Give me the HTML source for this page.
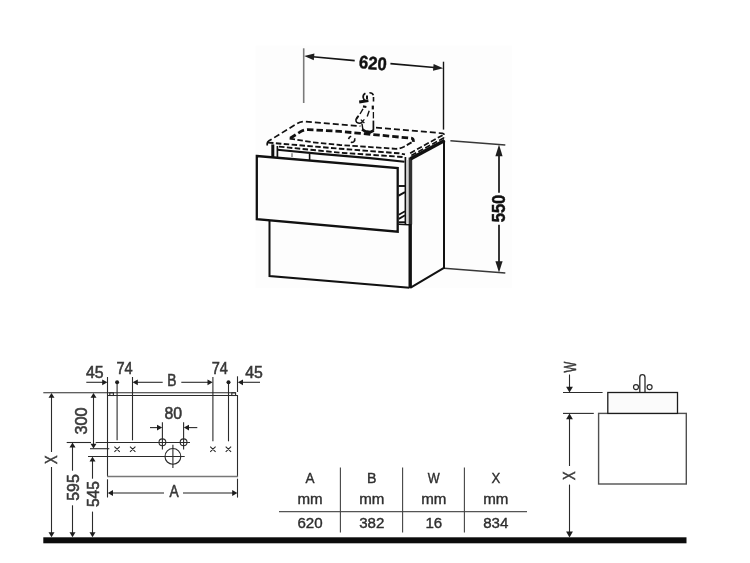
<!DOCTYPE html>
<html lang="en">
<head>
<meta charset="utf-8">
<title>Vanity unit dimensions</title>
<style>
  html, body { margin: 0; padding: 0; background: #fff; }
  body { width: 750px; height: 563px; overflow: hidden; }
  svg { display: block; filter: blur(0.3px); }
  text { font-family: "Liberation Sans", sans-serif; }
  .t { font-size: 16.2px; fill: #383838; stroke: #383838; stroke-width: 0.55; }
  .tb { font-size: 15.3px; fill: #2e2e2e; stroke: #2e2e2e; stroke-width: 0.4; }
  .bold { font-weight: bold; font-size: 18.2px; fill: #111; stroke: #111; stroke-width: 0.45; }
  .ln { stroke: #2b2b2b; stroke-width: 1.1; fill: none; }
  .gr { stroke: #777; stroke-width: 1.5; fill: none; }
  .ah { fill: #1e1e1e; stroke: none; }
  .k { stroke: #111; fill: none; stroke-linecap: butt; stroke-linejoin: miter; }
</style>
</head>
<body>
<svg width="750" height="563" viewBox="0 0 750 563">
<rect x="0" y="0" width="750" height="563" fill="#ffffff"/>

<!-- ===================== TOP: ISOMETRIC DRAWING ===================== -->
<g id="iso">
  <rect x="255.5" y="45.5" width="256.5" height="242.5" fill="#fdfdfd"/>
  <!-- 620 dimension -->
  <line x1="303.7" y1="48.3" x2="303.7" y2="103" stroke="#7a7a7a" stroke-width="1.6"/>
  <line x1="443.5" y1="61.7" x2="443.5" y2="129.6" stroke="#151515" stroke-width="1.4"/>
  <line x1="310" y1="56.5" x2="354.7" y2="60.6" stroke="#151515" stroke-width="1.6"/>
  <line x1="390.4" y1="63.6" x2="437" y2="67.7" stroke="#151515" stroke-width="1.6"/>
  <polygon class="ah" points="304.2,56 314.4,53.6 313.8,60.2" fill="#111"/>
  <polygon class="ah" points="443.2,68.3 433.6,64.1 433,70.7" fill="#111"/>
  <text class="bold" x="0" y="0" text-anchor="middle" textLength="27.8" lengthAdjust="spacingAndGlyphs" transform="translate(372.3,69.3) rotate(5)">620</text>

  <!-- 550 dimension -->
  <line x1="450.4" y1="140.7" x2="505.3" y2="145" stroke="#383838" stroke-width="1.5"/>
  <line x1="444" y1="268.3" x2="505.3" y2="273" stroke="#383838" stroke-width="1.5"/>
  <line x1="499" y1="152" x2="499" y2="192.7" stroke="#151515" stroke-width="1.7"/>
  <line x1="499" y1="224.7" x2="499" y2="265" stroke="#151515" stroke-width="1.7"/>
  <polygon class="ah" points="499,144.6 495.4,156.3 502.6,156.3"/>
  <polygon class="ah" points="499,272.4 495.4,261.3 502.6,261.3"/>
  <text class="bold" x="0" y="0" text-anchor="middle" textLength="27.6" lengthAdjust="spacingAndGlyphs" transform="translate(505,208.5) rotate(-90)">550</text>

  <!-- basin (dashed) -->
  <g class="k">
    <!-- outer outline -->
    <path d="M267.2,145.4 L267.2,143.4 Q267.3,141.8 269,140.8 L271.6,139.2" stroke-width="1.7"/>
    <path d="M274.2,137.6 L297,123.6 Q300.5,121.4 304.5,121.5 L360.4,126.2" stroke-width="1.7" stroke-dasharray="6 3"/>
    <path d="M376,127.6 L442.6,133.3 Q444.4,133.6 444.4,135.4 L444.4,138" stroke-width="1.7" stroke-dasharray="6 3"/>
    <!-- front top edge -->
    <path d="M268,142.6 L340,148.7 L398.7,153.3 L405,154.4" stroke-width="1.9" stroke-dasharray="5.5 2.4"/>
    <!-- front bottom edge -->
    <path d="M279,146.6 L340,152.7 L398.7,156.7 L404.5,157.2" stroke-width="1.9" stroke-dasharray="5.5 2.4"/>
    <!-- inner front line -->
    <path d="M289.6,138.6 L312,142.2 L340,145 L396,148.8 Q400,148.8 404,146.7 L413,141.6" stroke-width="1.8" stroke-dasharray="5.5 2.4"/>
    <!-- inner thick -->
    <path d="M290.2,138.2 L299.4,132.4 Q303.6,129.6 308,129.6 L340,131.4 L411.2,138.2 Q413.6,138.5 413.4,141.8" stroke-width="2.8" stroke-dasharray="6.5 3"/>
    <!-- right side edges -->
    <path d="M442.6,135.2 L408.8,153.9" stroke-width="1.7" stroke-dasharray="5.5 2.4"/>
    <path d="M444,137.8 L410.2,156" stroke-width="1.7" stroke-dasharray="5.5 2.4"/>
    <!-- drain symbol -->
    <path d="M351.2,136.2 Q348.9,136.8 348.6,139.2" stroke-width="1.7"/>
    <path d="M354.7,138.2 Q355.3,140.6 353.6,141.8 Q352.4,142.6 350.8,142.3" stroke-width="1.6"/>
  </g>

  <!-- faucet (dashed) -->
  <g class="k" stroke-width="1.6">
    <path d="M365.4,93.2 Q362.6,94.6 363.2,97.6 Q363.6,99.6 365.2,100.6" stroke-width="1.7"/>
    <path d="M369.4,92.8 Q373.4,92.8 373.5,96.4 L373.5,101.4" stroke-width="1.6" stroke-dasharray="5 1.6"/>
    <path d="M359.2,102 L368.4,100.6" stroke-width="2.8"/>
    <path d="M367,95.6 L367,99" stroke-width="2"/>
    <path d="M363,106.4 L366.4,107" stroke-width="2.2"/>
    <path d="M372.8,105.6 L372.8,109.4" stroke-width="2.2"/>
    <path d="M363,108.8 L360,114 M358.6,116 L356.4,119.4" stroke-width="1.4"/>
    <path d="M369.2,110.8 L367.2,116.4" stroke-width="1.4"/>
    <path d="M373.4,112 L373.4,118.4" stroke-width="1.3"/>
    <path d="M373.4,120.6 L373.4,130.6" stroke-width="1.7"/>
    <path d="M358.4,115.8 Q354.4,119.6 356.8,122.4 Q359.4,124 362.4,122.4" stroke-width="1.5"/>
    <path d="M360.8,119.6 L364.4,123 M364.4,119.4 L361,123" stroke-width="1.3"/>
    <path d="M362,123.8 L362.8,129" stroke-width="1.4"/>
    <path d="M362,129.4 L365.4,131.4 L370,132.2 L373.8,130.4" stroke-width="2.8"/>
  </g>

  <!-- cabinet body -->
  <g class="k">
    <!-- support pillar left -->
    <line x1="272.8" y1="144.4" x2="272.8" y2="157.6" stroke-width="3"/>
    <line x1="277.4" y1="146" x2="277.4" y2="157.8" stroke-width="1.7"/>
    <!-- cabinet top front edge -->
    <path d="M277.3,149.7 L320,153.9 L370,158.1 L404.5,161.7" stroke-width="2.1"/>
    <line x1="292" y1="153.2" x2="292" y2="157" stroke-width="1.2" stroke="#666"/>
    <line x1="309.6" y1="154" x2="309.6" y2="160.4" stroke-width="1.6"/>
    <!-- drawer front -->
    <path d="M256.8,156 L397.7,168.1 L397.7,231.7 L256.8,219.2 Z" stroke-width="2.3"/>
    <!-- lower cabinet front -->
    <path d="M269.5,220.4 L269.5,276 L409.5,287.8" stroke-width="2"/>
    <!-- drawer side details -->
    <path d="M398.4,186 L405.2,186" stroke-width="1.9"/>
    <path d="M398.6,195.6 L405,192.2" stroke-width="2"/>
    <path d="M398.8,214.7 L405,211.3" stroke-width="1.6"/>
    <path d="M398.8,218.9 L405,215.3" stroke-width="1.8"/>
    <path d="M398.6,222.2 L405.6,222.2" stroke-width="1.8"/>
    <path d="M398.4,224.2 L409,224.7" stroke-width="1.4"/>
    <!-- front right vertical -->
    <line x1="405.4" y1="157" x2="405.4" y2="224.2" stroke-width="1.7"/>
    <line x1="407.6" y1="160" x2="407.6" y2="223" stroke="#c4c4c4" stroke-width="0.8"/>
    <line x1="410.4" y1="157.6" x2="410.4" y2="224.4" stroke="#303030" stroke-width="3.6"/>
    <line x1="410.2" y1="224" x2="410.2" y2="288" stroke-width="3.4"/>
    <!-- side panel -->
    <line x1="410.4" y1="158.9" x2="444.6" y2="140.5" stroke-width="3.6"/>
    <line x1="444" y1="140.4" x2="444" y2="268.4" stroke-width="2"/>
    <line x1="410.2" y1="287.8" x2="444.4" y2="267.6" stroke-width="2"/>
  </g>
</g>

<!-- ===================== BOTTOM LEFT: FRONT VIEW ===================== -->
<g id="front">
  <!-- cabinet outline -->
  <line class="ln" x1="43.3" y1="392.8" x2="235.8" y2="392.8" stroke="#3a3a3a" stroke-width="1.3"/>
  <line class="ln" x1="107.5" y1="395.5" x2="237.5" y2="395.5"/>
  <rect class="ln" x="109.8" y="392.8" width="3.6" height="2.7" stroke-width="0.8"/>
  <rect class="ln" x="231.8" y="392.8" width="3.8" height="2.7" stroke-width="0.8"/>
  <line class="ln" x1="107.5" y1="377" x2="107.5" y2="476.4"/>
  <line class="ln" x1="237.5" y1="376.3" x2="237.5" y2="392" />
  <line class="ln" x1="237.5" y1="395" x2="237.5" y2="476.4" stroke="#4a4a4a"/>
  <line class="gr" x1="107.1" y1="476.4" x2="238.1" y2="476.4"/>
  <line class="ln" x1="107.5" y1="479.3" x2="107.5" y2="497.5" stroke="#444"/>
  <line class="ln" x1="237.5" y1="478.7" x2="237.5" y2="497.6" stroke="#444"/>

  <!-- A dimension -->
  <line x1="110" y1="493" x2="164" y2="493" stroke="#6a6a6a" stroke-width="1.4"/>
  <line x1="183" y1="493" x2="235" y2="493" stroke="#6a6a6a" stroke-width="1.4"/>
  <polygon class="ah" points="107.8,493 113,490.1 113,495.9"/>
  <polygon class="ah" points="237.4,493 232.2,490.1 232.2,495.9"/>
  <text class="t" x="174" y="496.6" text-anchor="middle" textLength="9.2" lengthAdjust="spacingAndGlyphs">A</text>

  <!-- top dimension chain -->
  <line class="ln" x1="117.1" y1="382.3" x2="117.1" y2="440.3"/>
  <line class="ln" x1="132.5" y1="377" x2="132.5" y2="440.3"/>
  <line class="ln" x1="212.9" y1="377" x2="212.9" y2="441.3"/>
  <line class="ln" x1="228.5" y1="382.3" x2="228.5" y2="441.3"/>
  <circle cx="117.1" cy="382.3" r="2" fill="#1e1e1e"/>
  <circle cx="228.5" cy="382.3" r="2" fill="#1e1e1e"/>
  <line class="ln" x1="86.3" y1="382.3" x2="104" y2="382.3"/>
  <polygon class="ah" points="107.4,382.3 102.2,379.4 102.2,385.2"/>
  <line class="ln" x1="241" y1="382.3" x2="260" y2="382.3"/>
  <polygon class="ah" points="237.8,382.3 243,379.4 243,385.2"/>
  <line class="ln" x1="136" y1="382.3" x2="162.7" y2="382.3"/>
  <line class="ln" x1="181.3" y1="382.3" x2="209" y2="382.3"/>
  <polygon class="ah" points="132.6,382.3 137.8,379.4 137.8,385.2"/>
  <polygon class="ah" points="212.7,382.3 207.5,379.4 207.5,385.2"/>
  <text class="t" x="94.7" y="377.6" text-anchor="middle" textLength="17.6" lengthAdjust="spacingAndGlyphs">45</text>
  <text class="t" x="124.6" y="373.6" text-anchor="middle" textLength="16.2" lengthAdjust="spacingAndGlyphs">74</text>
  <text class="t" x="171.8" y="385.8" text-anchor="middle" textLength="9.2" lengthAdjust="spacingAndGlyphs">B</text>
  <text class="t" x="219.8" y="373.6" text-anchor="middle" textLength="16.2" lengthAdjust="spacingAndGlyphs">74</text>
  <text class="t" x="254" y="377.6" text-anchor="middle" textLength="17.6" lengthAdjust="spacingAndGlyphs">45</text>

  <!-- 80 dimension -->
  <text class="t" x="173.3" y="418.8" text-anchor="middle" textLength="17.6" lengthAdjust="spacingAndGlyphs">80</text>
  <line class="ln" x1="150" y1="427.6" x2="159" y2="427.6"/>
  <polygon class="ah" points="162.2,427.6 157,424.7 157,430.5"/>
  <line class="ln" x1="187" y1="427.6" x2="197.3" y2="427.6"/>
  <polygon class="ah" points="183.8,427.6 189,424.7 189,430.5"/>
  <line class="ln" x1="162.4" y1="422.3" x2="162.4" y2="449.6"/>
  <line class="ln" x1="183.6" y1="422.3" x2="183.6" y2="449.6"/>
  <circle class="ln" cx="162.4" cy="442.3" r="3.4"/>
  <circle class="ln" cx="183.6" cy="442.3" r="3.4"/>

  <!-- level lines -->
  <line class="ln" x1="66.7" y1="442.5" x2="91" y2="442.5"/>
  <line class="ln" x1="95.7" y1="442.5" x2="190" y2="442.5"/>
  <line class="ln" x1="90" y1="448.7" x2="109.3" y2="448.7"/>
  <line class="ln" x1="88" y1="456.5" x2="184.7" y2="456.5"/>
  <circle class="ln" cx="172.9" cy="456.4" r="7.9"/>
  <line class="ln" x1="172.9" y1="444.7" x2="172.9" y2="468"/>

  <!-- x marks -->
  <path class="ln" stroke-width="1" d="M114.4,446.6 l5.4,5.2 m0,-5.2 l-5.4,5.2 M130,446.6 l5.4,5.2 m0,-5.2 l-5.4,5.2 M210.2,446.7 l5.4,5.2 m0,-5.2 l-5.4,5.2 M225.7,446.7 l5.4,5.2 m0,-5.2 l-5.4,5.2"/>

  <!-- X dimension -->
  <line class="ln" x1="51.5" y1="396" x2="51.5" y2="452"/>
  <line class="ln" x1="51.5" y1="467" x2="51.5" y2="533.5"/>
  <polygon class="ah" points="51.5,393 48.5,397.8 54.5,397.8"/>
  <polygon class="ah" points="51.5,537.3 48.5,532.3 54.5,532.3"/>
  <text class="t" x="0" y="0" text-anchor="middle" textLength="8.6" lengthAdjust="spacingAndGlyphs" transform="translate(57.3,459.6) rotate(-90)">X</text>

  <!-- 300 dimension -->
  <line class="ln" x1="93.5" y1="396" x2="93.5" y2="445"/>
  <polygon class="ah" points="93.5,393 90.5,397.8 96.5,397.8"/>
  <polygon class="ah" points="93.5,448.6 90.5,443.8 96.5,443.8"/>
  <text class="t" x="0" y="0" text-anchor="middle" textLength="27" lengthAdjust="spacingAndGlyphs" transform="translate(87.2,421) rotate(-90)">300</text>

  <!-- 595 dimension -->
  <line class="ln" x1="72.5" y1="446" x2="72.5" y2="470.7"/>
  <line class="ln" x1="72.5" y1="505.3" x2="72.5" y2="533.5"/>
  <polygon class="ah" points="72.5,442.6 69.5,447.4 75.5,447.4"/>
  <polygon class="ah" points="72.5,537.3 69.5,532.3 75.5,532.3"/>
  <text class="t" x="0" y="0" text-anchor="middle" textLength="26.4" lengthAdjust="spacingAndGlyphs" transform="translate(78.6,487.5) rotate(-90)">595</text>

  <!-- 545 dimension -->
  <line class="ln" x1="92.5" y1="460" x2="92.5" y2="478.7"/>
  <line class="ln" x1="92.5" y1="511.6" x2="92.5" y2="533.5"/>
  <polygon class="ah" points="92.5,456.7 89.5,461.5 95.5,461.5"/>
  <polygon class="ah" points="92.5,537.3 89.5,532.3 95.5,532.3"/>
  <text class="t" x="0" y="0" text-anchor="middle" textLength="26" lengthAdjust="spacingAndGlyphs" transform="translate(98.7,494.1) rotate(-90)">545</text>
</g>

<!-- ground line -->
<rect x="43.3" y="537.3" width="643.2" height="6" fill="#0c0c0c"/>

<!-- ===================== TABLE ===================== -->
<g id="table">
  <line x1="279" y1="511.6" x2="527" y2="511.6" stroke="#555" stroke-width="1.1"/>
  <line x1="340.4" y1="467.4" x2="340.4" y2="532.6" stroke="#444" stroke-width="1.1"/>
  <line x1="402.6" y1="467.4" x2="402.6" y2="532.6" stroke="#444" stroke-width="1.1"/>
  <line x1="464.4" y1="467.4" x2="464.4" y2="532.6" stroke="#444" stroke-width="1.1"/>
  <text class="tb" x="310" y="483.3" text-anchor="middle" textLength="9" lengthAdjust="spacingAndGlyphs">A</text>
  <text class="tb" x="371.8" y="483.3" text-anchor="middle" textLength="9.5" lengthAdjust="spacingAndGlyphs">B</text>
  <text class="tb" x="433.8" y="483.3" text-anchor="middle" textLength="12" lengthAdjust="spacingAndGlyphs">W</text>
  <text class="tb" x="495.8" y="483.3" text-anchor="middle" textLength="8.8" lengthAdjust="spacingAndGlyphs">X</text>
  <text class="tb" x="310" y="503.6" text-anchor="middle" textLength="25.2" lengthAdjust="spacingAndGlyphs">mm</text>
  <text class="tb" x="371.8" y="503.6" text-anchor="middle" textLength="25.2" lengthAdjust="spacingAndGlyphs">mm</text>
  <text class="tb" x="433.8" y="503.6" text-anchor="middle" textLength="25.2" lengthAdjust="spacingAndGlyphs">mm</text>
  <text class="tb" x="495.8" y="503.6" text-anchor="middle" textLength="25.2" lengthAdjust="spacingAndGlyphs">mm</text>
  <text class="tb" x="310" y="527.7" text-anchor="middle" textLength="25.2" lengthAdjust="spacingAndGlyphs">620</text>
  <text class="tb" x="371.8" y="527.7" text-anchor="middle" textLength="25.2" lengthAdjust="spacingAndGlyphs">382</text>
  <text class="tb" x="433.8" y="527.7" text-anchor="middle" textLength="16.8" lengthAdjust="spacingAndGlyphs">16</text>
  <text class="tb" x="495.8" y="527.7" text-anchor="middle" textLength="25.2" lengthAdjust="spacingAndGlyphs">834</text>
</g>

<!-- ===================== BOTTOM RIGHT: SIDE VIEW ===================== -->
<g id="side">
  <text class="t" x="0" y="0" text-anchor="middle" textLength="10.8" lengthAdjust="spacingAndGlyphs" transform="translate(575.6,367.2) rotate(-90)">W</text>
  <line class="ln" x1="569.5" y1="374.5" x2="569.5" y2="389"/>
  <polygon class="ah" points="569.5,392.6 566.1,386.8 572.9,386.8"/>
  <line class="ln" x1="563" y1="392.5" x2="602.6" y2="392.5" stroke="#444"/>
  <line class="ln" x1="563" y1="413.4" x2="593.8" y2="413.4" stroke="#444"/>

  <!-- faucet -->
  <path d="M639.8,392.5 L639.8,377.4 Q639.8,374.7 642.4,374.7 Q645,374.7 645,377.4 L645,392.5" fill="#fff" stroke="#2c2c2c" stroke-width="1.3"/>
  <circle cx="636" cy="387.1" r="2.5" fill="#fff" stroke="#2c2c2c" stroke-width="1.2"/>
  <circle cx="649.6" cy="387.1" r="2.5" fill="#fff" stroke="#2c2c2c" stroke-width="1.2"/>

  <!-- cabinet + basin -->
  <rect x="598.6" y="413.4" width="87.7" height="70.6" fill="#fff" stroke="#505050" stroke-width="1.4"/>
  <rect x="607.8" y="392.5" width="69.7" height="20.9" fill="#fbfbfb" stroke="#1c1c1c" stroke-width="1.3"/>

  <!-- X dimension -->
  <line class="ln" x1="569.5" y1="417" x2="569.5" y2="466"/>
  <line class="ln" x1="569.5" y1="484.6" x2="569.5" y2="533.5"/>
  <polygon class="ah" points="569.5,413.4 566.1,419.2 572.9,419.2"/>
  <polygon class="ah" points="569.5,537.5 566.1,531.6 572.9,531.6"/>
  <text class="t" x="0" y="0" text-anchor="middle" textLength="8.6" lengthAdjust="spacingAndGlyphs" transform="translate(575.4,475.7) rotate(-90)">X</text>
</g>
</svg>
</body>
</html>
